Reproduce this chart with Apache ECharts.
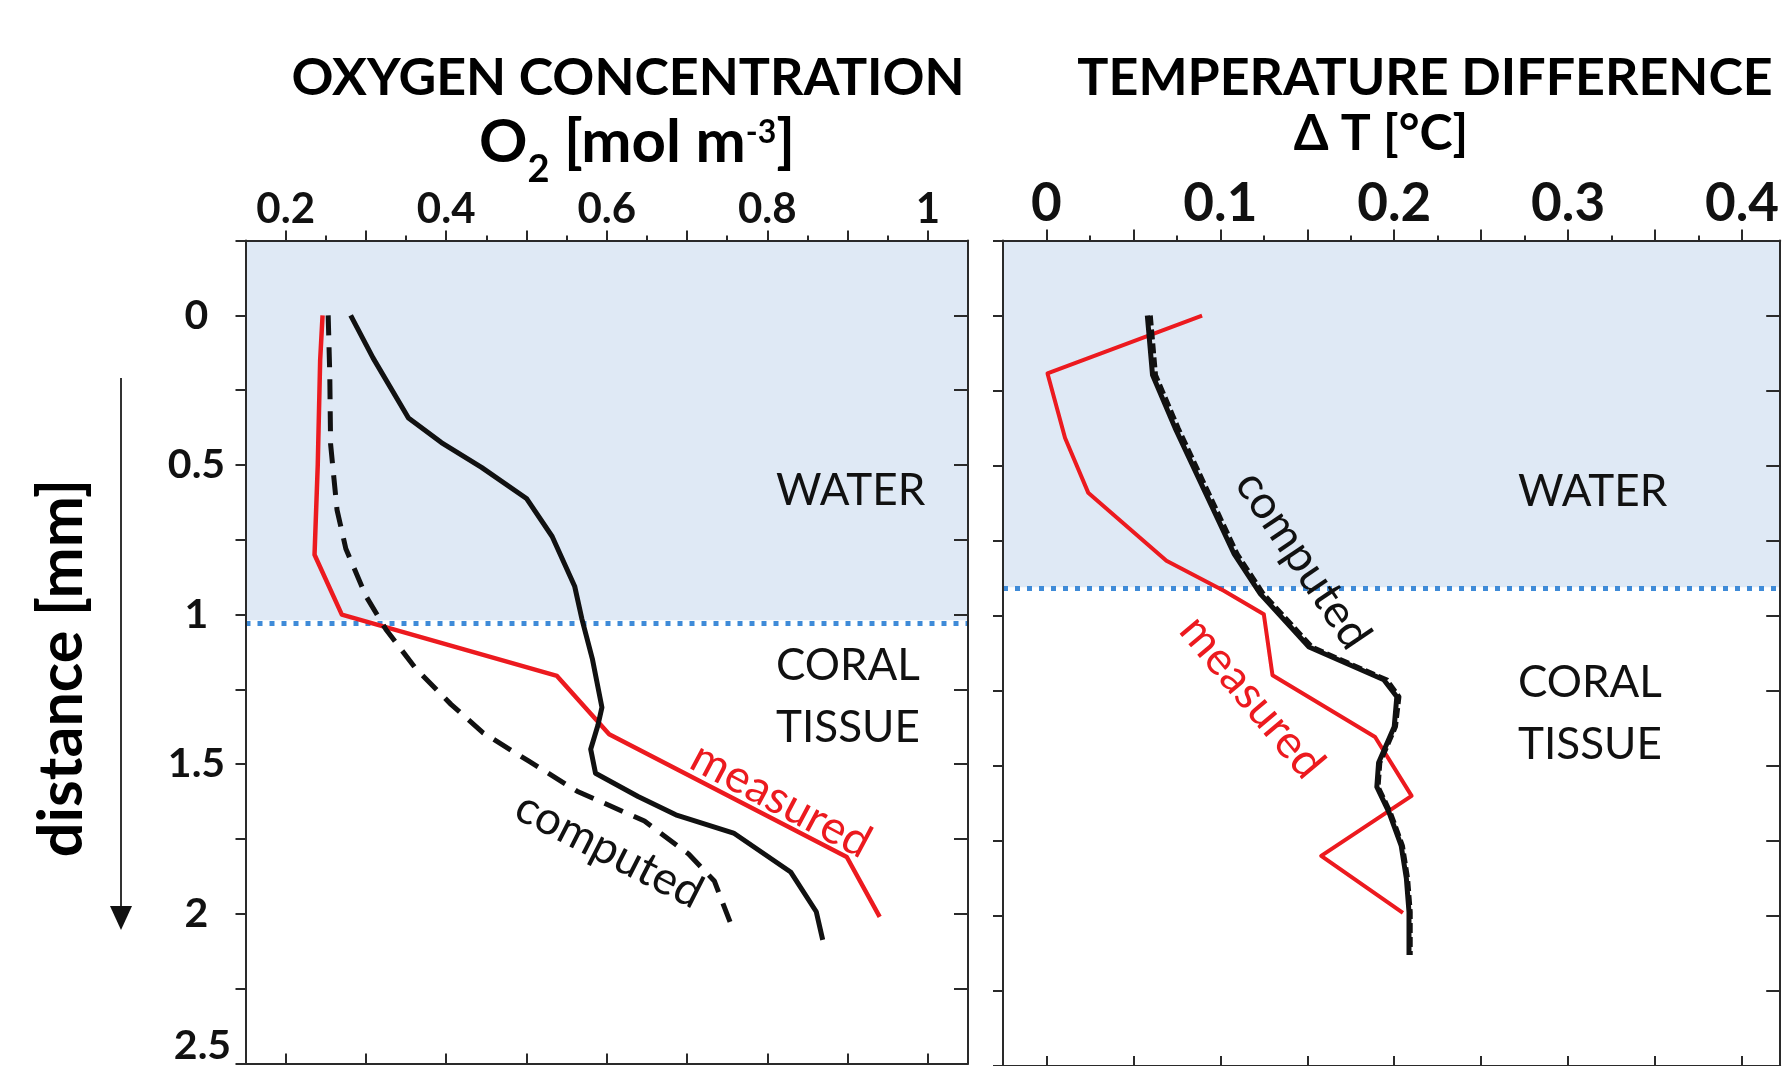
<!DOCTYPE html>
<html>
<head>
<meta charset="utf-8">
<title>Oxygen and temperature profiles</title>
<script src="https://cdn.jsdelivr.net/npm/echarts@6.0.0/dist/echarts.min.js"></script>
<style>
    html, body { margin: 0; padding: 0; background: #fff; }
    #main { width: 1782px; height: 1066px; }
</style>
</head>
<body>
<div id="main"></div>
<script>
// ---- data (distance in mm, downwards) ----
// left panel: O2 [mol m-3]
var o2MeasuredDepth = [0, 0.15, 0.5, 0.8, 1.0, 1.205, 1.4, 1.81, 2.01];
var o2Measured      = [0.246, 0.243, 0.240, 0.236, 0.270, 0.538, 0.603, 0.899, 0.940];

var o2ModelDepth = [0, 0.143, 0.343, 0.425, 0.508, 0.612, 0.739, 0.905, 1.014, 1.147, 1.31, 1.37, 1.45, 1.53, 1.608, 1.669, 1.73, 1.86, 1.993, 2.087];
var o2Model      = [0.281, 0.309, 0.353, 0.394, 0.444, 0.500, 0.532, 0.560, 0.569, 0.582, 0.594, 0.589, 0.580, 0.586, 0.639, 0.686, 0.758, 0.829, 0.861, 0.869];

var o2ModelDashDepth = [0, 0.2, 0.43, 0.65, 0.78, 0.938, 1.05, 1.18, 1.30, 1.395, 1.49, 1.59, 1.69, 1.80, 1.89, 2.03];
var o2ModelDash      = [0.253, 0.255, 0.256, 0.264, 0.275, 0.300, 0.325, 0.362, 0.406, 0.446, 0.503, 0.563, 0.647, 0.702, 0.734, 0.754];

// right panel: delta T [degC]
var dtMeasuredDepth = [0, 0.193, 0.408, 0.59, 0.817, 0.917, 0.995, 1.198, 1.404, 1.60, 1.80, 1.99];
var dtMeasured      = [0.0895, 0.0006, 0.0107, 0.024, 0.069, 0.102, 0.125, 0.130, 0.189, 0.210, 0.158, 0.205];

var dtModelDepth = [0, 0.198, 0.375, 0.585, 0.795, 0.927, 1.104, 1.213, 1.27, 1.37, 1.49, 1.57, 1.655, 1.766, 1.876, 1.987, 2.13];
var dtModel      = [0.058, 0.061, 0.074, 0.091, 0.108, 0.123, 0.151, 0.194, 0.2015, 0.200, 0.191, 0.190, 0.197, 0.204, 0.207, 0.2085, 0.2085];
var dtModelDash  = [0.060, 0.063, 0.076, 0.093, 0.110, 0.125, 0.153, 0.196, 0.203, 0.201, 0.192, 0.191, 0.198, 0.205, 0.208, 0.2095, 0.2095];

// water / tissue boundary (dotted line) and shaded water layer
var o2Boundary = 1.027;
var dtBoundary = 0.913;

// ticks and labels
var depthLabels  = [0, 0.5, 1, 1.5, 2, 2.5];
var o2Labels     = [0.2, 0.4, 0.6, 0.8, 1];
var o2MajorTicks = [0.2, 0.3, 0.4, 0.5, 0.6, 0.7, 0.8, 0.9, 1.0];
var o2MinorTicks = [0.25, 0.35, 0.45, 0.55, 0.65, 0.75, 0.85, 0.95];
var dtLabels     = [0, 0.1, 0.2, 0.3, 0.4];
var dtMajorTicks = [0, 0.05, 0.1, 0.15, 0.2, 0.25, 0.3, 0.35, 0.4];
var dtMinorTicks = [0.025, 0.075, 0.125, 0.175, 0.225, 0.275, 0.325, 0.375];

var FONT = 'Lato, "Open Sans", sans-serif';
var AXIS_COLOR = '#2a2a2a';
var RED = '#ec1a1f';

var zip = function (xs, ys) {
    var out = [];
    for (var i = 0; i < xs.length; i++) {
        out.push([xs[i], ys[i]]);
    }
    return out;
};

var xAxisOpt = function (grid, pos, min, max, ticks, tickLen, inside, labels, fontSize, showLine) {
    return {
        type: 'value', gridIndex: grid, position: pos, min: min, max: max, z: 4,
        splitLine: {show: false},
        axisLine: {show: showLine, onZero: false, lineStyle: {color: AXIS_COLOR, width: 2}},
        axisTick: {show: true, inside: inside, length: tickLen, customValues: ticks,
            lineStyle: {color: AXIS_COLOR, width: 2}},
        axisLabel: labels ? {show: true, customValues: labels, margin: 10, color: '#111',
            fontFamily: FONT, fontWeight: 'bold', fontSize: fontSize} : {show: false}
    };
};

var yAxisOpt = function (grid, pos, inside, withLabels) {
    return {
        type: 'value', gridIndex: grid, position: pos, inverse: true,
        min: -0.25, max: 2.5, interval: 0.25, z: 4,
        splitLine: {show: false},
        axisLine: {show: true, onZero: false, lineStyle: {color: AXIS_COLOR, width: 2}},
        axisTick: {show: true, inside: inside, length: inside ? 14 : 10, lineStyle: {color: AXIS_COLOR, width: 2}},
        axisLabel: withLabels ? {
            show: true, customValues: depthLabels, margin: 49, align: 'center', color: '#111',
            fontFamily: FONT, fontWeight: 'bold', fontSize: 41,
            formatter: function (v) {
                return v === 2.5 ? '{low|2.5}' : String(v);
            },
            rich: {low: {fontFamily: FONT, fontWeight: 'bold', fontSize: 41, padding: [0, 0, 36, 12]}}
        } : {show: false}
    };
};

var lineSeries = function (xIdx, yIdx, data, color, width, type, z) {
    return {
        type: 'line', xAxisIndex: xIdx, yAxisIndex: yIdx, data: data,
        showSymbol: false, symbol: 'none', silent: true, z: z,
        lineStyle: {color: color, width: width, type: type, join: 'round', cap: 'butt'}
    };
};

var band = function (series, boundary) {
    series.markArea = {
        silent: true,
        itemStyle: {color: '#dfe9f5'},
        data: [[{yAxis: -0.25}, {yAxis: boundary - 0.008}]]
    };
    series.markLine = {
        silent: true, symbol: ['none', 'none'], z: 1,
        label: {show: false},
        lineStyle: {color: '#3f8bd8', width: 5, type: [5, 7]},
        data: [{yAxis: boundary}]
    };
    return series;
};

var label = function (text, x, y, size, color, rot, align) {
    return {
        type: 'text', x: x, y: y, z: 100, rotation: (rot || 0) * Math.PI / 180, silent: true,
        style: {text: text, fontFamily: FONT, fontSize: size, fill: color || '#111',
            align: align || 'center', verticalAlign: 'middle'}
    };
};

var chart = echarts.init(document.getElementById('main'));

var o2Main = lineSeries(0, 0, zip(o2Measured, o2MeasuredDepth), RED, 4.5, 'solid', 3);
var dtMain = lineSeries(3, 2, zip(dtMeasured, dtMeasuredDepth), RED, 4, 'solid', 3);

var option = {
    animation: false,
    backgroundColor: '#fff',
    grid: [
        {left: 245.5, top: 240.5, width: 722.5, height: 828},
        {left: 1003, top: 240.5, width: 784.5, height: 828}
    ],
    xAxis: [
        xAxisOpt(0, 'top', 0.15, 1.05, o2MajorTicks, 10, false, o2Labels, 42, true),
        xAxisOpt(0, 'top', 0.15, 1.05, o2MinorTicks, 5, false, null, 0, false),
        xAxisOpt(0, 'bottom', 0.15, 1.05, o2MajorTicks, 10, true, null, 0, true),
        xAxisOpt(1, 'top', -0.025, 0.422, dtMajorTicks, 11, false, dtLabels, 53, true),
        xAxisOpt(1, 'top', -0.025, 0.422, dtMinorTicks, 5, false, null, 0, false),
        xAxisOpt(1, 'bottom', -0.025, 0.422, dtMajorTicks, 10, true, null, 0, true)
    ],
    yAxis: [
        yAxisOpt(0, 'left', false, true),
        yAxisOpt(0, 'right', true, false),
        yAxisOpt(1, 'left', false, false),
        yAxisOpt(1, 'right', true, false)
    ],
    series: [
        band(o2Main, o2Boundary),
        lineSeries(0, 0, zip(o2Model, o2ModelDepth), '#111', 5, 'solid', 3),
        lineSeries(0, 0, zip(o2ModelDash, o2ModelDashDepth), '#111', 5, [20, 12], 3),
        band(dtMain, dtBoundary),
        lineSeries(3, 2, zip(dtModelDash, dtModelDepth), '#111', 4, [10, 4], 3),
        lineSeries(3, 2, zip(dtModel, dtModelDepth), '#111', 5, 'solid', 3)
    ],
    graphic: [
        {type: 'text', x: 628, y: 78, z: 100, silent: true,
            style: {text: 'OXYGEN CONCENTRATION', fontFamily: FONT, fontWeight: 'bold', fontSize: 52,
                fill: '#000', align: 'center', verticalAlign: 'middle'}},
        {type: 'text', x: 1425, y: 78, z: 100, silent: true,
            style: {text: 'TEMPERATURE DIFFERENCE', fontFamily: FONT, fontWeight: 'bold', fontSize: 52,
                fill: '#000', align: 'center', verticalAlign: 'middle'}},
        {type: 'text', x: 637, y: 143, z: 100, silent: true,
            style: {text: '{m|O}{s|2}{m| [mol m}{p|-3}{m|]}', fill: '#000', align: 'center', verticalAlign: 'middle',
                rich: {
                    m: {fontFamily: FONT, fontWeight: 'bold', fontSize: 60, lineHeight: 92},
                    s: {fontFamily: FONT, fontWeight: 'bold', fontSize: 38, verticalAlign: 'bottom'},
                    p: {fontFamily: FONT, fontWeight: 'bold', fontSize: 32, verticalAlign: 'top', padding: [20, 0, 0, 0]}
                }}},
        {type: 'text', x: 1381, y: 134, z: 100, silent: true,
            style: {text: '\u0394 T [\u00b0C]', fontFamily: FONT, fontWeight: 'bold', fontSize: 50,
                fill: '#000', align: 'center', verticalAlign: 'middle'}},
        {type: 'text', x: 62, y: 668, z: 100, rotation: Math.PI / 2, silent: true,
            style: {text: 'distance [mm]', fontFamily: FONT, fontWeight: 'bold', fontSize: 61,
                fill: '#000', align: 'center', verticalAlign: 'middle'}},
        {type: 'line', z: 100, silent: true, shape: {x1: 121, y1: 378, x2: 121, y2: 912},
            style: {stroke: '#333', lineWidth: 2}},
        {type: 'polygon', z: 100, silent: true, shape: {points: [[110, 906], [132, 906], [121, 930]]},
            style: {fill: '#111'}},

        label('WATER', 776, 491, 44, '#111', 0, 'left'),
        label('CORAL', 776, 666, 44, '#111', 0, 'left'),
        label('TISSUE', 776, 728, 44, '#111', 0, 'left'),
        label('WATER', 1518, 492, 44, '#111', 0, 'left'),
        label('CORAL', 1518, 683, 44, '#111', 0, 'left'),
        label('TISSUE', 1518, 745, 44, '#111', 0, 'left'),

        label('measured', 781, 800, 46, RED, -28),
        label('computed', 609, 850, 46, '#111', -27),
        label('computed', 1303, 560, 46, '#111', -56),
        label('measured', 1252, 697, 46, RED, -50)
    ]
};

chart.setOption(option);
</script>
</body>
</html>
